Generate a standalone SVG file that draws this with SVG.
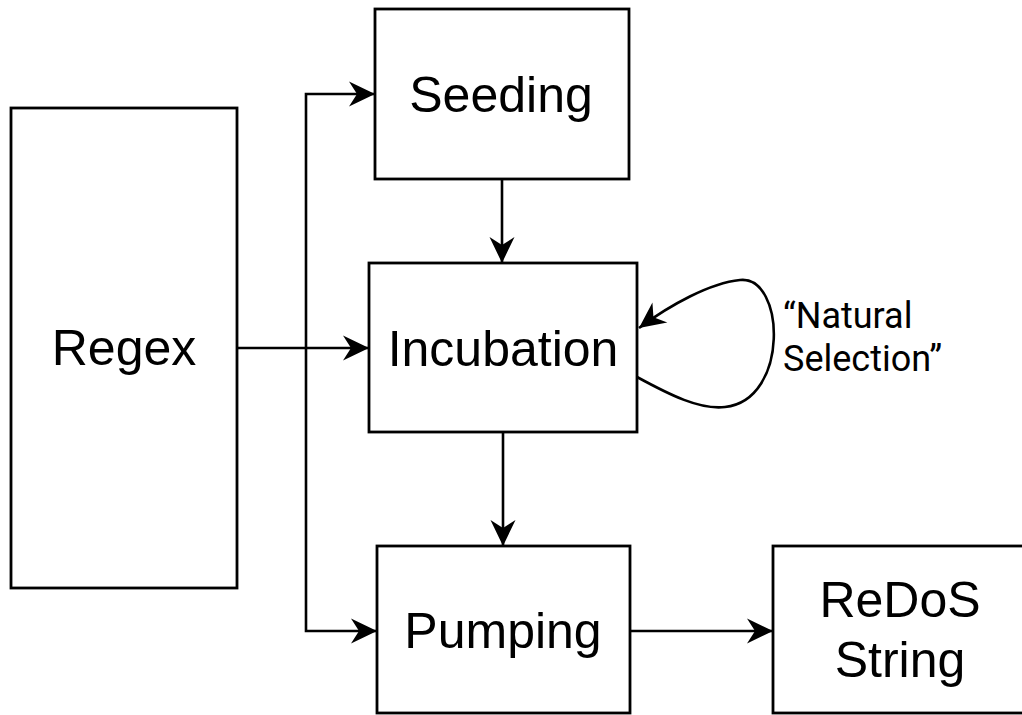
<svg xmlns="http://www.w3.org/2000/svg" width="1022" height="715" viewBox="0 0 1022 715">
  <style>
    .box { fill: #ffffff; stroke: #000000; stroke-width: 2.8; }
    .label { font-family: "Liberation Sans", Arial, Helvetica, sans-serif; font-size: 50px; fill: #000000; text-anchor: middle; }
    .note { font-family: Roboto, "Noto Sans", sans-serif; font-size: 36px; fill: #000000; }
    .edge { fill: none; stroke: #000000; stroke-width: 2.6; }
  </style>
  <defs>
    <marker id="arrow" viewBox="-28 -14 30 28" markerWidth="30" markerHeight="28" refX="0" refY="0" markerUnits="userSpaceOnUse" orient="auto">
      <path d="M0,0 L-26,-12.5 L-18,0 L-26,12.5 Z" fill="#000000"/>
    </marker>
  </defs>
  <rect width="1022" height="715" fill="#ffffff"/>

  <g id="regex">
    <rect class="box" x="11" y="108" width="226" height="480"/>
    <text class="label" x="124" y="365">Regex</text>
  </g>

  <g id="seeding">
    <rect class="box" x="375" y="9" width="254" height="170"/>
    <text class="label" x="501" y="112">Seeding</text>
  </g>

  <g id="incubation">
    <rect class="box" x="369" y="263" width="268" height="169"/>
    <text class="label" x="503" y="366">Incubation</text>
  </g>

  <g id="pumping">
    <rect class="box" x="377" y="546" width="253" height="167"/>
    <text class="label" x="503" y="648">Pumping</text>
  </g>

  <g id="redos-string">
    <rect class="box" x="773" y="546" width="256" height="167"/>
    <text class="label" x="900" y="617">ReDoS</text>
    <text class="label" x="900" y="677">String</text>
  </g>

  <g id="connectors">
    <!-- Regex into Incubation -->
    <path class="edge" d="M237,348 L369,348" marker-end="url(#arrow)"/>
    <!-- branch trunk feeding Seeding and Pumping -->
    <path class="edge" d="M306,348 L306,94 L375,94" marker-end="url(#arrow)"/>
    <path class="edge" d="M306,348 L306,631 L377,631" marker-end="url(#arrow)"/>
    <!-- Seeding to Incubation -->
    <path class="edge" d="M502,179 L502,263" marker-end="url(#arrow)"/>
    <!-- Incubation to Pumping -->
    <path class="edge" d="M503,432 L503,546" marker-end="url(#arrow)"/>
    <!-- Pumping to ReDoS String -->
    <path class="edge" d="M630,631 L773,631" marker-end="url(#arrow)"/>
    <!-- self loop on Incubation -->
    <path class="edge" d="M637,377 C670,395 700,410 725,407 C790,400 785,275 740,280 C710,283 670,305 639,328" marker-end="url(#arrow)"/>
  </g>

  <g id="loop-label">
    <text class="note" x="783" y="328">“Natural</text>
    <text class="note" x="783" y="371">Selection”</text>
  </g>
</svg>
